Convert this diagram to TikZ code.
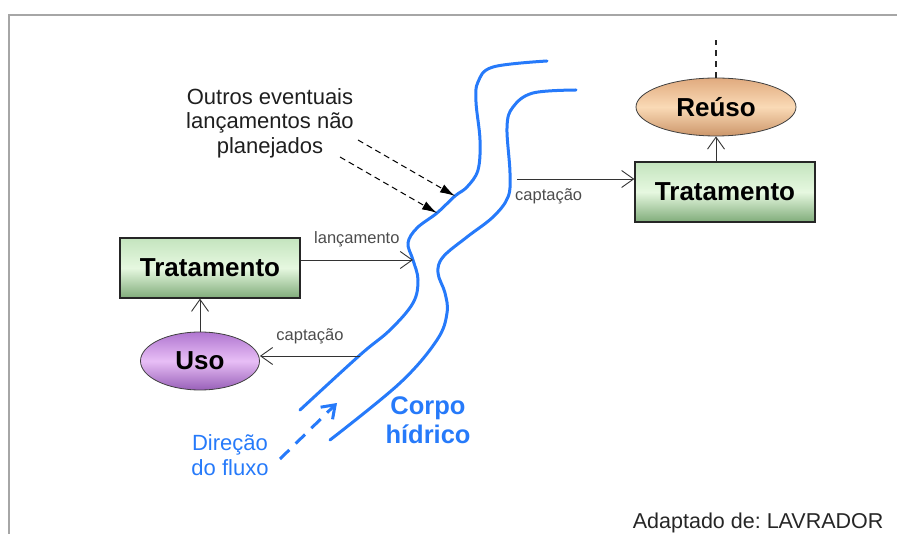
\documentclass[tikz,border=0pt]{standalone}
\usepackage{fontspec}
\setmainfont{Liberation Sans}
\frenchspacing
\usetikzlibrary{arrows.meta, positioning, shapes.geometric}

\definecolor{rivblue}{RGB}{38,122,250}
\definecolor{tratTop}{RGB}{196,228,190}
\definecolor{tratMid}{RGB}{230,248,224}
\definecolor{tratBot}{RGB}{128,172,122}
\definecolor{usoTop}{RGB}{176,118,208}
\definecolor{usoMid}{RGB}{232,190,246}
\definecolor{usoBot}{RGB}{152,96,184}
\definecolor{reuTop}{RGB}{224,170,126}
\definecolor{reuMid}{RGB}{250,218,182}
\definecolor{reuBot}{RGB}{204,150,106}

\begin{document}
\begin{tikzpicture}[
    x=1pt, y=-1pt,
    box/.style={draw=black!85, line width=1.3pt, rectangle, minimum width=180pt, minimum height=60pt, text centered, font=\fontsize{26}{30}\selectfont\bfseries, top color=tratTop, bottom color=tratBot, middle color=tratMid},
    oval/.style={draw=black!75, line width=0.8pt, ellipse, minimum height=58pt, inner sep=0pt, text centered, font=\fontsize{26}{30}\selectfont\bfseries},
    arrow/.style={-{Straight Barb[length=12pt, width=17pt]}, line width=0.9pt, draw=black!80},
    hint/.style={-{Latex[length=15pt, width=9pt]}, line width=1pt, dash pattern=on 6pt off 4pt},
    river/.style={draw=rivblue, line width=3pt, line cap=round},
    label_text/.style={font=\fontsize{16.5}{19}\selectfont, text=black!70, inner sep=0pt},
    blue_text/.style={text=rivblue, align=center}
]
\useasboundingbox (0,0) rectangle (897,534);

% Moldura
\draw [black!35, line width=2pt] (9,534) -- (9,15) -- (897,15);

% Corpo hidrico (margens)
\draw [river] plot[smooth, tension=0.6] coordinates {(547,61) (493,67) (478,82) (476,102) (480,140) (478,170) (467,187) (455,196) (437,213) (417,228) (408,243) (413,260) (418,280) (413,303) (390,330) (360,355) (300,410)};
\draw [river] plot[smooth, tension=0.6] coordinates {(576,90) (533,93) (513,107) (507,127) (510,173) (508,197) (493,217) (467,237) (443,257) (438,273) (445,293) (447,313) (437,340) (400,383) (330,440)};

% Pontos nas margens
\coordinate (bank_a) at (455,196);
\coordinate (bank_b) at (437,213);
\coordinate (lanc_pt) at (413,260);
\coordinate (capt_l) at (360,356);
\coordinate (capt_r) at (517,179);

% Nodos principais
\node (trat_left) [box] at (210,268) {Tratamento};
\node (uso) [oval, minimum width=119pt, top color=usoTop, bottom color=usoBot, middle color=usoMid] at (200,361) {Uso};
\node (trat_right) [box] at (725,192) {Tratamento};
\node (reuso) [oval, minimum width=160pt, top color=reuTop, bottom color=reuBot, middle color=reuMid] at (716,107) {Reúso};

% Textos
\node (outros) [align=center, text=black!88, font=\fontsize{22}{24.5}\selectfont] at (270,123) {Outros eventuais\\lançamentos não\\planejados};
\node (corpo) [blue_text, font=\fontsize{25.5}{29}\selectfont\bfseries] at (428,420) {Corpo\\hídrico};
\node (direcao) [blue_text, font=\fontsize{22}{25}\selectfont] at (230,455) {Direção\\do fluxo};
\node (fonte) [anchor=east, text=black!85, font=\fontsize{21.5}{24}\selectfont] at (887,523) {Adaptado de: LAVRADOR};

% Conexoes
\draw [arrow] (trat_left.east |- lanc_pt) -- (lanc_pt) node[midway, above=13pt, label_text] {lançamento};
\draw [arrow] (uso.north) -- (uso.north |- trat_left.south);
\draw [arrow] (capt_l) -- (capt_l -| uso.east) node[midway, above=12pt, label_text] {captação};
\draw [arrow] (capt_r) -- (capt_r -| trat_right.west) node[pos=0.27, below=9pt, label_text] {captação};
\draw [arrow] (reuso.south |- trat_right.north) -- (reuso.south);

% Reuso (saida tracejada)
\coordinate (reuso_top) at (716,40);
\draw [black!85, line width=1.5pt, dash pattern=on 6pt off 5pt] (reuso.north) -- (reuso_top);

% Lancamentos nao planejados
\coordinate (hint_a) at (358,140);
\coordinate (hint_b) at (340,157);
\draw [hint] (hint_a) -- (bank_a);
\draw [hint] (hint_b) -- (bank_b);

% Direcao do fluxo
\coordinate (flow_a) at (280,459);
\coordinate (flow_b) at (337,403);
\draw [rivblue, line width=3pt, dash pattern=on 13pt off 9pt, -{Straight Barb[length=12pt, width=17pt]}] (flow_a) -- (flow_b);

\end{tikzpicture}
\end{document}
